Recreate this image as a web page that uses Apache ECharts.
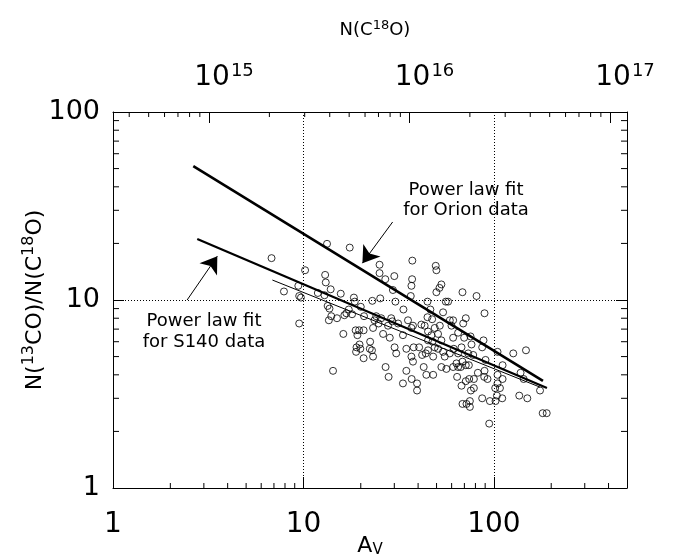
<!DOCTYPE html>
<html><head><meta charset="utf-8">
<script src="https://cdn.jsdelivr.net/npm/echarts@6/dist/echarts.min.js"></script>
<style>html,body{margin:0;padding:0;background:#fff}#c{width:673px;height:556px}</style>
</head><body><div id="c"></div>
<script>
// ---- data ----
const avValues = [6.8,13.3,17.5,10.2,7.9,9.4,9.5,9.7,9.5,13.0,
13.1,13.9,11.9,12.9,13.4,13.7,14.0,13.6,15.0,15.7,
16.2,16.4,16.8,17.3,18.4,18.6,18.0,20.0,20.8,23.0,
25.1,25.1,26.9,30.0,37.3,37.2,36.9,29.5,25.3,30.4,
36.6,33.5,18.8,19.6,20.7,19.2,19.7,19.0,18.9,19.9,
22.3,22.4,22.9,23.2,20.7,23.2,23.6,24.1,24.8,25.6,
26.2,27.8,28.4,28.9,29.3,30.1,30.7,27.0,28.0,14.3,
33.3,34.7,37.0,39.5,39.5,36.9,37.6,35.4,36.9,37.6,
31.4,33.3,34.7,37.9,40.5,42.0,42.8,44.2,48.0,41.6,
43.3,44.8,47.4,44.8,46.4,49.5,49.9,53.0,51.8,49.9,
55.9,57.5,54.1,58.7,61.1,59.9,45.1,47.0,48.9,50.9,
52.0,45.1,47.6,48.9,50.9,53.0,54.1,55.2,58.7,61.6,
61.1,63.6,64.9,53.0,56.3,43.9,45.1,48.0,61.1,64.9,
64.1,
68.4,81.1,89.3,71.2,69.0,64.9,69.8,75.4,76.3,88.2,
86.8,67.6,73.3,77.9,90.4,68.4,71.2,67.0,73.9,104.5,
126.4,147.4,111.1,89.3,82.4,89.0,92.6,104.5,111.1,138.1,
143.3,67.6,71.2,74.2,78.5,75.7,78.5,104.5,101.6,107.6,
103.7,86.8,95.3,102.0,110.6,135.9,149.8,174.7,68.4,71.8,
74.8,74.8,94.5,180.4,189.4];
const ratioValues = [16.7,19.9,19.0,14.4,11.1,11.9,10.5,10.3,7.5,13.6,
12.4,11.4,10.9,10.6,9.3,9.0,8.2,7.8,8.0,10.8,
6.6,8.3,8.5,8.9,10.3,9.8,8.4,9.2,8.2,9.9,
15.4,13.9,12.9,13.4,16.2,12.9,11.9,11.3,10.2,9.8,
10.5,8.9,6.9,6.9,6.9,6.5,5.8,5.6,5.3,5.5,
5.5,6.0,5.4,5.0,4.9,7.1,7.8,8.2,7.5,8.0,
6.6,7.3,6.3,8.0,7.7,5.6,5.2,4.4,3.9,4.2,
3.6,4.2,3.8,3.6,3.3,5.0,4.7,7.8,7.1,7.3,
7.5,6.5,5.5,5.6,5.6,5.1,4.4,4.0,4.0,7.4,
7.3,8.1,7.9,9.8,8.9,15.2,14.4,12.1,11.6,11.0,
9.8,9.8,8.6,7.8,7.8,7.3,6.8,6.5,7.1,6.6,
7.3,6.1,6.0,5.6,5.5,6.1,5.3,5.0,5.2,5.5,
4.4,4.6,4.4,4.4,4.3,5.2,5.4,5.0,6.3,5.2,
3.9,
11.0,10.5,8.5,8.0,7.5,6.7,6.3,6.4,5.8,6.1,
5.6,5.6,5.2,5.1,4.8,4.7,4.5,4.4,4.5,5.3,
5.2,5.4,4.5,4.2,4.1,3.9,3.8,4.0,3.8,4.1,
3.8,3.5,3.7,3.8,3.8,3.3,3.4,3.6,3.4,3.4,
3.1,3.0,2.9,2.9,3.0,3.1,3.0,3.3,2.8,2.8,
2.9,2.7,2.2,2.5,2.5];

const orionFitAv = [2.64, 181];
const orionFitRatio = [51.6, 3.71];
const s140FitAv = [2.77, 190];
const s140FitRatio = [21.1, 3.40];
const localFitAv = [6.87, 174.7];
const localFitRatio = [12.77, 3.44];

const orionArrowAv = [29.4, 20.4];
const orionArrowRatio = [26.0, 15.7];
const s140ArrowAv = [2.45, 3.53];
const s140ArrowRatio = [10.0, 17.1];

const avRange = [1, 500];
const ratioRange = [1, 100];
const nC18ORange = [3.32e14, 1.215e17];

const avMajorTicks = [1, 10, 100];
const avTickLabels = ['1', '10', '100'];
const ratioMajorTicks = [1, 10, 100];
const ratioTickLabels = ['1', '10', '100'];
const nMajorTicks = [1e15, 1e16, 1e17];
const nTickLabels = ['10{sup|15}', '10{sup|16}', '10{sup|17}'];

const avMinorTicks = [2,3,4,5,6,7,8,9,20,30,40,50,60,70,80,90,200,300,400];
const ratioMinorTicks = [2,3,4,5,6,7,8,9,20,30,40,50,60,70,80,90];
const nMinorTicks = [4e14,5e14,6e14,7e14,8e14,9e14,2e15,3e15,4e15,5e15,6e15,7e15,8e15,9e15,2e16,3e16,4e16,5e16,6e16,7e16,8e16,9e16];

const orionNote = 'Power law fit\nfor Orion data';
const s140Note = 'Power law fit\nfor S140 data';

// ---- chart ----
const FONT = '"DejaVu Sans", sans-serif';
function pickLabel(v, ticks, labels) {
  for (let i = 0; i < ticks.length; i++) {
    if (Math.abs(Math.log10(v) - Math.log10(ticks[i])) < 1e-6) return labels[i];
  }
  return '';
}
const zip = (a, b) => a.map((v, i) => [v, b[i]]);
const tickLine = (x1, y1, x2, y2) => ({type: 'line', shape: {x1, y1, x2, y2}, style: {stroke: '#000', lineWidth: 1}});
const MINOR = 5;

const chart = echarts.init(document.getElementById('c'), null, {renderer: 'canvas'});
chart.setOption({
  animation: false,
  backgroundColor: '#fff',
  grid: {left: 113, right: 46, top: 112, bottom: 68, containLabel: false, outerBoundsMode: 'none'},
  xAxis: [{
    type: 'log', logBase: 10, position: 'bottom', min: avRange[0], max: avRange[1],
    axisLine: {show: true, lineStyle: {color: '#000', width: 1}},
    axisTick: {show: true, inside: true, length: 11, lineStyle: {color: '#000'}},
    axisLabel: {show: true, margin: 23, color: '#000', fontFamily: FONT, fontSize: 28,
      formatter: v => pickLabel(v, avMajorTicks, avTickLabels)},
    splitLine: {show: true, lineStyle: {color: '#000', width: 1, type: [1, 2]}},
    name: 'A{sub|V}', nameLocation: 'middle', nameGap: 46, nameMoveOverlap: false,
    nameTextStyle: {color: '#000', fontFamily: FONT, fontSize: 22, lineHeight: 24,
      rich: {sub: {fontFamily: FONT, fontSize: 15, lineHeight: 15, verticalAlign: 'bottom', padding: [8, 0, 0, 0]}}}
  }, {
    type: 'log', logBase: 10, position: 'top', min: nC18ORange[0], max: nC18ORange[1],
    axisLine: {show: true, lineStyle: {color: '#000', width: 1}},
    axisTick: {show: true, inside: true, length: 11, lineStyle: {color: '#000'}},
    axisLabel: {show: true, margin: 18, color: '#000', fontFamily: FONT, fontSize: 28, padding: [0, 0, 0, 30],
      formatter: v => pickLabel(v, nMajorTicks, nTickLabels),
      rich: {sup: {fontFamily: FONT, fontSize: 18, verticalAlign: 'top', padding: [0, 0, 14, 1]}}},
    splitLine: {show: false},
    name: 'N(C{sup|18}O)', nameLocation: 'middle', nameGap: 70,
    nameTextStyle: {color: '#000', fontFamily: FONT, fontSize: 18, padding: [0, 0, 0, 10],
      rich: {sup: {fontFamily: FONT, fontSize: 13, verticalAlign: 'top', padding: [0, 0, 10, 0]}}}
  }],
  yAxis: [{
    type: 'log', logBase: 10, position: 'left', min: ratioRange[0], max: ratioRange[1],
    axisLine: {show: true, lineStyle: {color: '#000', width: 1}},
    axisTick: {show: true, inside: true, length: 11, lineStyle: {color: '#000'}},
    axisLabel: {show: true, margin: 13, color: '#000', fontFamily: FONT, fontSize: 27,
      formatter: v => pickLabel(v, ratioMajorTicks, ratioTickLabels)},
    splitLine: {show: true, lineStyle: {color: '#000', width: 1, type: [1, 2]}},
    name: 'N({sup|13}CO)/N(C{sup|18}O)', nameLocation: 'middle', nameGap: 64, nameRotate: 90, nameMoveOverlap: false,
    nameTextStyle: {color: '#000', fontFamily: FONT, fontSize: 22,
      rich: {sup: {fontFamily: FONT, fontSize: 16, verticalAlign: 'top', padding: [0, 0, 12, 0]}}}
  }, {
    type: 'log', logBase: 10, position: 'right', min: ratioRange[0], max: ratioRange[1],
    axisLine: {show: true, lineStyle: {color: '#000', width: 1}},
    axisTick: {show: true, inside: true, length: 11, lineStyle: {color: '#000'}},
    axisLabel: {show: false},
    splitLine: {show: false}
  }],
  series: [
    {
      type: 'scatter', xAxisIndex: 0, yAxisIndex: 0, symbol: 'circle', symbolSize: 7,
      itemStyle: {color: 'rgba(255,255,255,0)', borderColor: '#000', borderWidth: 1},
      data: zip(avValues, ratioValues), z: 3
    },
    {
      type: 'line', xAxisIndex: 0, yAxisIndex: 0, showSymbol: false, symbol: 'none',
      lineStyle: {color: '#000', width: 2.6}, data: zip(orionFitAv, orionFitRatio), z: 4,
      markLine: {
        silent: true, symbol: ['none', 'arrow'], symbolSize: 16,
        label: {show: false},
        lineStyle: {color: '#000', width: 1, type: 'solid'},
        itemStyle: {color: '#000'},
        data: [
          [{coord: [orionArrowAv[0], orionArrowRatio[0]]}, {coord: [orionArrowAv[1], orionArrowRatio[1]]}],
          [{coord: [s140ArrowAv[0], s140ArrowRatio[0]]}, {coord: [s140ArrowAv[1], s140ArrowRatio[1]]}]
        ]
      }
    },
    {
      type: 'line', xAxisIndex: 0, yAxisIndex: 0, showSymbol: false, symbol: 'none',
      lineStyle: {color: '#000', width: 2.2}, data: zip(s140FitAv, s140FitRatio), z: 4
    },
    {
      type: 'line', xAxisIndex: 0, yAxisIndex: 0, showSymbol: false, symbol: 'none',
      lineStyle: {color: '#000', width: 1}, data: zip(localFitAv, localFitRatio), z: 4
    },
    {
      type: 'custom', xAxisIndex: 0, yAxisIndex: 0, silent: true, z: 5,
      data: avMinorTicks.map(v => [v, ratioRange[0]]),
      renderItem: (params, api) => {
        const b = api.coord([api.value(0), ratioRange[0]]);
        return {type: 'group', children: [tickLine(b[0], b[1], b[0], b[1] - MINOR)]};
      }
    },
    {
      type: 'custom', xAxisIndex: 1, yAxisIndex: 0, silent: true, z: 5,
      data: nMinorTicks.map(v => [v, ratioRange[1]]),
      renderItem: (params, api) => {
        const t = api.coord([api.value(0), ratioRange[1]]);
        return {type: 'group', children: [tickLine(t[0], t[1], t[0], t[1] + MINOR)]};
      }
    },
    {
      type: 'custom', xAxisIndex: 0, yAxisIndex: 0, silent: true, z: 5,
      data: ratioMinorTicks.map(v => [avRange[0], v]),
      renderItem: (params, api) => {
        const l = api.coord([avRange[0], api.value(1)]);
        const r = api.coord([avRange[1], api.value(1)]);
        return {type: 'group', children: [
          tickLine(l[0], l[1], l[0] + MINOR + 1, l[1]),
          tickLine(r[0], r[1], r[0] - MINOR - 1, r[1])
        ]};
      }
    }
  ],
  graphic: [
    {type: 'text', x: 466, y: 200, silent: true,
      style: {text: orionNote, fill: '#000', font: '18px ' + FONT, align: 'center', verticalAlign: 'middle', lineHeight: 20}},
    {type: 'text', x: 204, y: 332, silent: true,
      style: {text: s140Note, fill: '#000', font: '18px ' + FONT, align: 'center', verticalAlign: 'middle', lineHeight: 21}}
  ]
});
</script>
</body></html>
